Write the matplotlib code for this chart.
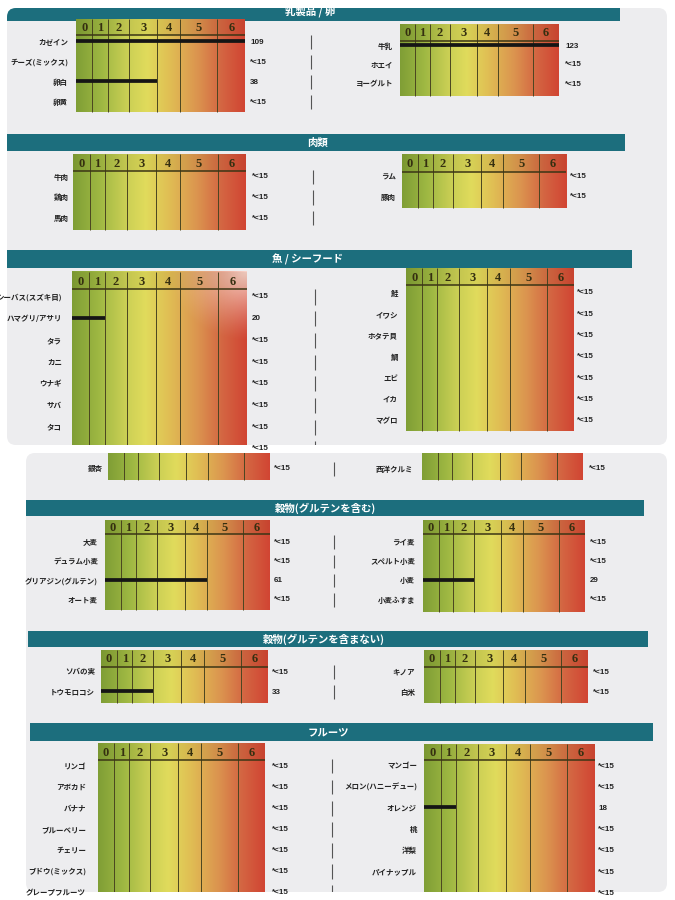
import numpy as np
import matplotlib.pyplot as plt
from matplotlib.colors import LinearSegmentedColormap
from matplotlib.patches import FancyBboxPatch, Rectangle

plt.rcParams['font.family'] = ['Noto Sans CJK JP', 'DejaVu Sans']

W, H = 675, 900

# reaction classes 0..6 (column edges as fraction of the grid width)
class_labels = ["0", "1", "2", "3", "4", "5", "6"]
class_edges = [0, 0.097, 0.187, 0.313, 0.482, 0.618, 0.837, 1.0]

# ---- data -------------------------------------------------------------
dairy_foods_l = ["カゼイン", "チーズ(ミックス)", "卵白", "卵黄"]
dairy_vals_l = ["109", "*<15", "38", "*<15"]
dairy_cls_l = [6, 0, 3, 0]
dairy_foods_r = ["牛乳", "ホエイ", "ヨーグルト"]
dairy_vals_r = ["123", "*<15", "*<15"]
dairy_cls_r = [6, 0, 0]

meat_foods_l = ["牛肉", "鶏肉", "馬肉"]
meat_vals_l = ["*<15", "*<15", "*<15"]
meat_cls_l = [0, 0, 0]
meat_foods_r = ["ラム", "豚肉"]
meat_vals_r = ["*<15", "*<15"]
meat_cls_r = [0, 0]

fish_foods_l = ["シーバス(スズキ目)", "ハマグリ/アサリ", "タラ", "カニ", "ウナギ", "サバ", "タコ", ""]
fish_vals_l = ["*<15", "20", "*<15", "*<15", "*<15", "*<15", "*<15", "*<15"]
fish_cls_l = [0, 1, 0, 0, 0, 0, 0, 0]
fish_foods_r = ["鮭", "イワシ", "ホタテ貝", "鯛", "エビ", "イカ", "マグロ"]
fish_vals_r = ["*<15", "*<15", "*<15", "*<15", "*<15", "*<15", "*<15"]
fish_cls_r = [0, 0, 0, 0, 0, 0, 0]

nut_foods_l = ["銀杏"]
nut_vals_l = ["*<15"]
nut_cls_l = [0]
nut_foods_r = ["西洋クルミ"]
nut_vals_r = ["*<15"]
nut_cls_r = [0]

gluten_foods_l = ["大麦", "デュラム小麦", "グリアジン(グルテン)", "オート麦"]
gluten_vals_l = ["*<15", "*<15", "61", "*<15"]
gluten_cls_l = [0, 0, 4, 0]
gluten_foods_r = ["ライ麦", "スペルト小麦", "小麦", "小麦ふすま"]
gluten_vals_r = ["*<15", "*<15", "29", "*<15"]
gluten_cls_r = [0, 0, 2, 0]

gfree_foods_l = ["ソバの実", "トウモロコシ"]
gfree_vals_l = ["*<15", "33"]
gfree_cls_l = [0, 2]
gfree_foods_r = ["キノア", "白米"]
gfree_vals_r = ["*<15", "*<15"]
gfree_cls_r = [0, 0]

fruit_foods_l = ["リンゴ", "アボカド", "バナナ", "ブルーベリー", "チェリー", "ブドウ(ミックス)", "グレープフルーツ"]
fruit_vals_l = ["*<15", "*<15", "*<15", "*<15", "*<15", "*<15", "*<15"]
fruit_cls_l = [0, 0, 0, 0, 0, 0, 0]
fruit_foods_r = ["マンゴー", "メロン(ハニーデュー)", "オレンジ", "桃", "洋梨", "パイナップル", ""]
fruit_vals_r = ["*<15", "*<15", "18", "*<15", "*<15", "*<15", "*<15"]
fruit_cls_r = [0, 0, 1, 0, 0, 0, 0]

section_titles = ["乳製品 / 卵", "肉類", "魚 / シーフード", "穀物(グルテンを含む)", "穀物(グルテンを含まない)", "フルーツ"]

# ---- layout (pixels) ----------------------------------------------------
photos = [(7, 8, 667, 445), (26, 453, 667, 892)]
# x0, y0, x1, y1, text x, text y, photo
banners = [
    (7, -2, 620, 21, 310, 11, 0),
    (7, 134, 625, 151, 318, 143, 0),
    (7, 250, 632, 268, 307, 259, 0),
    (26, 500, 644, 516, 325, 508, 1),
    (28, 631, 648, 647, 324, 639, 1),
    (30, 723, 653, 741, 328, 732, 1),
]
# x0, x1, top, header line, first row, pitch, bottom, label x, value x, separator x, photo, glare
panels = [
    (dairy_foods_l, dairy_vals_l, dairy_cls_l, (76, 245, 19, 35, 42, 20, 112, 68, 250, 311, 0, False)),
    (dairy_foods_r, dairy_vals_r, dairy_cls_r, (400, 559, 24, 41, 46, 19, 96, 393, 565, None, 0, False)),
    (meat_foods_l, meat_vals_l, meat_cls_l, (73, 246, 154, 171, 177, 20.5, 230, 69, 252, 313, 0, False)),
    (meat_foods_r, meat_vals_r, meat_cls_r, (402, 566, 154, 172, 177, 20, 208, 396, 570, None, 0, False)),
    (fish_foods_l, fish_vals_l, fish_cls_l, (72, 247, 272, 289, 297, 21.7, 470, 62, 252, 315, 0, True)),
    (fish_foods_r, fish_vals_r, fish_cls_r, (406, 574, 268, 285, 293, 21.3, 431, 398, 577, None, 0, False)),
    (nut_foods_l, nut_vals_l, nut_cls_l, (108, 270, 440, None, 469, 20, 480, 103, 274, 334, 1, False)),
    (nut_foods_r, nut_vals_r, nut_cls_r, (422, 583, 440, None, 469, 20, 480, 413, 589, None, 1, False)),
    (gluten_foods_l, gluten_vals_l, gluten_cls_l, (105, 270, 520, 534, 542, 19.3, 610, 98, 274, 334, 1, False)),
    (gluten_foods_r, gluten_vals_r, gluten_cls_r, (423, 585, 520, 534, 542, 19.3, 612, 415, 590, None, 1, False)),
    (gfree_foods_l, gfree_vals_l, gfree_cls_l, (101, 268, 650, 667, 672, 20, 703, 95, 272, 334, 1, False)),
    (gfree_foods_r, gfree_vals_r, gfree_cls_r, (424, 588, 650, 667, 672, 20, 703, 415, 593, None, 1, False)),
    (fruit_foods_l, fruit_vals_l, fruit_cls_l, (98, 265, 743, 760, 766, 21.1, 905, 86, 272, 332, 1, False)),
    (fruit_foods_r, fruit_vals_r, fruit_cls_r, (424, 595, 744, 760, 766, 21.2, 905, 417, 598, None, 1, False)),
]

grad = LinearSegmentedColormap.from_list("cls", [
    (0.0, (0.50, 0.62, 0.21)),
    (0.15, (0.62, 0.72, 0.26)),
    (0.30, (0.79, 0.81, 0.33)),
    (0.42, (0.88, 0.86, 0.36)),
    (0.55, (0.88, 0.75, 0.33)),
    (0.72, (0.86, 0.58, 0.31)),
    (0.86, (0.83, 0.40, 0.26)),
    (1.0, (0.82, 0.27, 0.20)),
])

fig = plt.figure(figsize=(6.75, 9), dpi=100)
fig.patch.set_facecolor("white")

bg = fig.add_axes([0, 0, 1, 1], zorder=0)
bg.set_xlim(0, W)
bg.set_ylim(H, 0)
bg.axis("off")

photo_patches = []
for x0, y0, x1, y1 in photos:
    p = FancyBboxPatch((x0, y0), x1 - x0, y1 - y0,
                       boxstyle="round,pad=0,rounding_size=9",
                       fc="#ededef", ec="none")
    bg.add_patch(p)
    photo_patches.append(p)

for (x0, y0, x1, y1, tx, ty, ph), title in zip(banners, section_titles):
    r = Rectangle((x0, y0), x1 - x0, y1 - y0, fc="#1c6e7d", ec="none")
    bg.add_patch(r)
    r.set_clip_path(photo_patches[ph])
    t = bg.text(tx, ty, title, ha="center", va="center", color="white",
                fontsize=7.5, fontweight="bold")
    t.set_clip_path(photo_patches[ph])


def clip_to(artist, patch):
    artist.set_clip_path(patch)
    artist.set_clip_box(None)
    return artist


for foods, vals, cls, lay in panels:
    x0, x1, top, hline, row0, pitch, bottom, lab_x, val_x, sep_x, ph, glare = lay
    clip = photo_patches[ph]
    ax = fig.add_axes([x0 / W, 1 - bottom / H, (x1 - x0) / W, (bottom - top) / H], zorder=1)
    top_u = (top - row0) / pitch
    bot_u = (bottom - row0) / pitch
    ax.set_xlim(0, 1)
    ax.set_ylim(bot_u, top_u)
    ax.axis("off")
    px = lambda v: (v - x0) / (x1 - x0)

    im = ax.imshow(np.linspace(0, 1, 256)[None, :], cmap=grad, aspect="auto",
                   extent=(0, 1, bot_u, top_u), interpolation="bilinear")
    clip_to(im, clip)
    if glare:
        gx, gy = np.meshgrid(np.linspace(0, 1, 120), np.linspace(top_u, bot_u, 200))
        d = np.hypot((gx - 1.0) / 0.45, (gy - top_u) / 3.2)
        rgba = np.ones(gx.shape + (4,))
        rgba[..., :3] = [1.0, 0.93, 0.90]
        rgba[..., 3] = np.clip(1 - d, 0, 1) ** 1.3 * 0.85
        g = ax.imshow(rgba, aspect="auto", extent=(0, 1, bot_u, top_u), zorder=1.5)
        clip_to(g, clip)
    vl = ax.vlines(class_edges[1:-1], top_u, bot_u, color="#4a4520", lw=0.7, zorder=2)
    clip_to(vl, clip)

    if hline is not None:
        hl_u = (hline - row0) / pitch
        hdr = Rectangle((0, top_u), 1, hl_u - top_u, fc="#3a3000", alpha=0.06, ec="none", zorder=2)
        ax.add_patch(hdr)
        clip_to(hdr, clip)
        h = ax.hlines(hl_u, 0, 1, color="#3b3515", lw=1.1, zorder=2)
        clip_to(h, clip)
        for k, lab in enumerate(class_labels):
            ax.text((class_edges[k] + class_edges[k + 1]) / 2, (top_u + hl_u) / 2 + 0.05, lab,
                    ha="center", va="center", fontsize=9, fontweight="bold",
                    family=["Liberation Serif", "DejaVu Serif"], color="#352f10", zorder=3)

    for i, (food, v, c) in enumerate(zip(foods, vals, cls)):
        if v != "*<15":
            b = ax.hlines(i - 0.05, 0, class_edges[c + 1], color="#151515", lw=2.7, zorder=3)
            clip_to(b, clip)
        ax.text(px(lab_x), i, food, ha="right", va="center", fontsize=5.4,
                fontweight="bold", color="#222222", clip_on=True, clip_path=clip)
        ax.text(px(val_x), i, v, ha="left", va="center", fontsize=5.8,
                fontweight="bold", family=["Liberation Sans", "DejaVu Sans"],
                color="#222222", clip_on=True, clip_path=clip)
        if sep_x is not None:
            s = ax.vlines(px(sep_x), i - 0.35, i + 0.35, color="#555555", lw=0.8)
            clip_to(s, clip)

fig.savefig("out.png", dpi=100, facecolor="white")
